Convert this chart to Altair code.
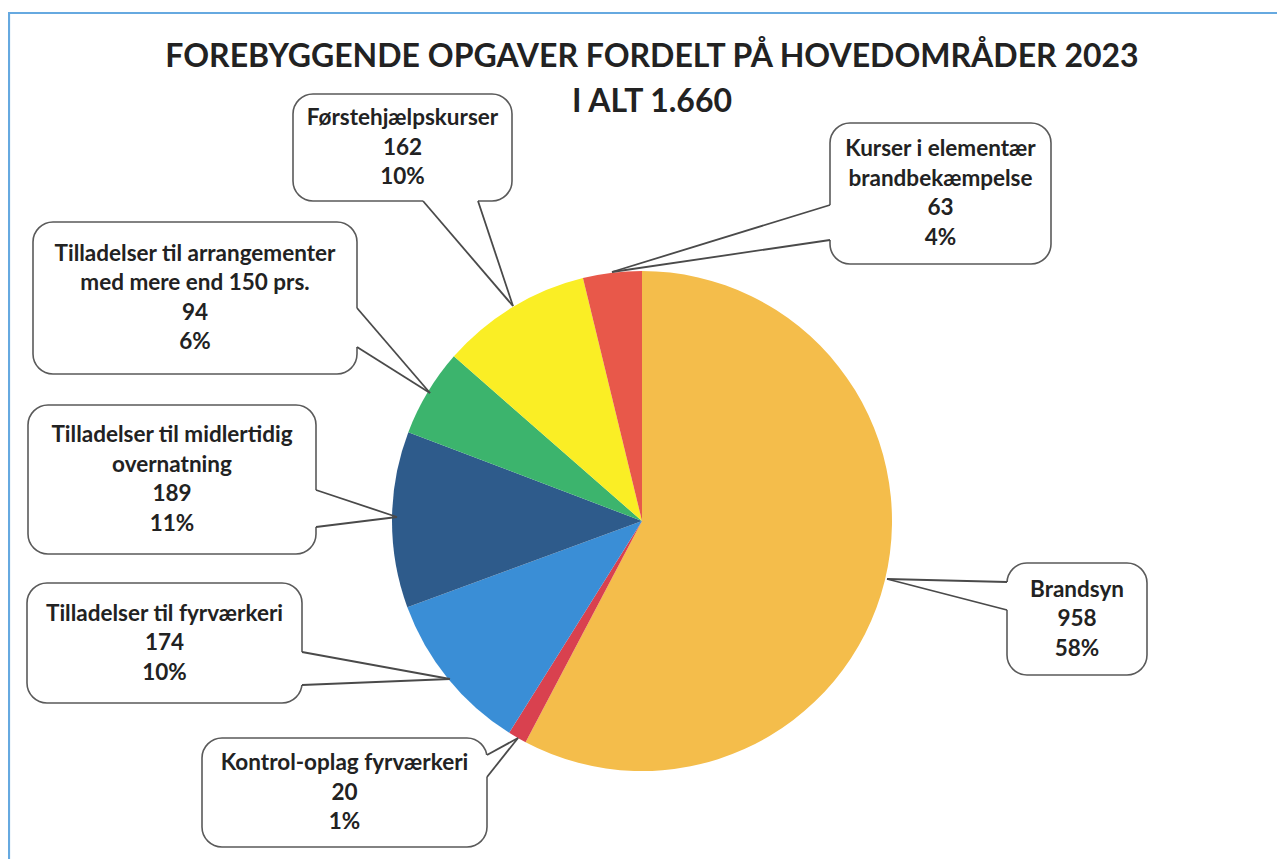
import altair as alt
import pandas as pd

# ---- data ----
categories = [
    "Brandsyn",
    "Kontrol-oplag fyrværkeri",
    "Tilladelser til fyrværkeri",
    "Tilladelser til midlertidig overnatning",
    "Tilladelser til arrangementer med mere end 150 prs.",
    "Førstehjælpskurser",
    "Kurser i elementær brandbekæmpelse",
]
label_lines = [
    ["Brandsyn"],
    ["Kontrol-oplag fyrværkeri"],
    ["Tilladelser til fyrværkeri"],
    ["Tilladelser til midlertidig", "overnatning"],
    ["Tilladelser til arrangementer", "med mere end 150 prs."],
    ["Førstehjælpskurser"],
    ["Kurser i elementær", "brandbekæmpelse"],
]
values = [958, 20, 174, 189, 94, 162, 63]
title_lines = ["FOREBYGGENDE OPGAVER FORDELT PÅ HOVEDOMRÅDER 2023", "I ALT 1.660"]

# ---- styles / layout (screen coordinates) ----
colors = ["#F4BD4B", "#D9414F", "#3A8ED6", "#2E5B8B", "#3CB46D", "#FAEE25", "#E8584A"]
# callout boxes: x1, x2, y1, y2
boxes = [
    (1007, 1147, 563, 675),
    (202, 487, 738, 847),
    (27, 302, 583, 703),
    (28, 316, 405, 554),
    (33, 357, 222, 374),
    (293, 512, 94, 201),
    (830, 1051, 123, 264),
]
# wedge: base point 1, base point 2, tip
wedges = [
    ((1007, 582), (1007, 610), (887, 579)),
    ((487, 755), (487, 777), (518, 738)),
    ((302, 652), (302, 685), (450, 679)),
    ((316, 490), (316, 527), (397, 517)),
    ((357, 308), (357, 347), (430, 393)),
    ((423, 201), (478, 201), (513, 306)),
    ((830, 205), (830, 240), (612, 272)),
]
W, H = 1269, 851
PIE_CX, PIE_CY, PIE_R = 642, 521, 250
LINE_H = 29.5
FONT = "Lato"

total = sum(values)
pcts = [round(v / total * 100) for v in values]

xs = alt.Scale(domain=[8, 8 + W], nice=False, zero=False)
ys = alt.Scale(domain=[8, 8 + H], nice=False, zero=False, reverse=True)

# pie
pie_df = pd.DataFrame({"cat": categories, "value": values, "order": list(range(len(values)))})
pie = alt.Chart(pie_df).mark_arc(radius=PIE_R, strokeWidth=0).encode(
    theta=alt.Theta("value:Q", stack=True),
    color=alt.Color("cat:N", scale=alt.Scale(domain=categories, range=colors), legend=None),
    order=alt.Order("order:Q"),
    x=alt.value(PIE_CX - 8),
    y=alt.value(PIE_CY - 8),
)

# frame
frame_df = pd.DataFrame({"x": [9], "x2": [1400], "y": [13], "y2": [1000]})
frame = alt.Chart(frame_df).mark_rect(fill=None, stroke="#66A9E0", strokeWidth=2.2, fillOpacity=0).encode(
    x=alt.X("x:Q", scale=xs, axis=None), x2="x2:Q",
    y=alt.Y("y:Q", scale=ys, axis=None), y2="y2:Q",
)

# boxes
box_df = pd.DataFrame({
    "x": [b[0] for b in boxes], "x2": [b[1] for b in boxes],
    "y": [b[2] for b in boxes], "y2": [b[3] for b in boxes],
})
box = alt.Chart(box_df).mark_rect(fill="white", stroke="#5a5a5a", strokeWidth=1.6, cornerRadius=20).encode(
    x=alt.X("x:Q", scale=xs, axis=None), x2="x2:Q",
    y=alt.Y("y:Q", scale=ys, axis=None), y2="y2:Q",
)

# cover the box border where the wedge attaches
cover_df = pd.DataFrame({
    "x": [w[0][0] for w in wedges], "y": [w[0][1] for w in wedges],
    "x2": [w[1][0] for w in wedges], "y2": [w[1][1] for w in wedges],
})
cover = alt.Chart(cover_df).mark_rule(color="white", strokeWidth=4).encode(
    x=alt.X("x:Q", scale=xs, axis=None), x2="x2:Q",
    y=alt.Y("y:Q", scale=ys, axis=None), y2="y2:Q",
)

# wedge edges
rows = []
for (p1, p2, t) in wedges:
    rows.append({"x": p1[0], "y": p1[1], "x2": t[0], "y2": t[1]})
    rows.append({"x": p2[0], "y": p2[1], "x2": t[0], "y2": t[1]})
wedge_df = pd.DataFrame(rows)
wedge = alt.Chart(wedge_df).mark_rule(color="#4a4a4a", strokeWidth=1.8).encode(
    x=alt.X("x:Q", scale=xs, axis=None), x2="x2:Q",
    y=alt.Y("y:Q", scale=ys, axis=None), y2="y2:Q",
)

# label text
trows = []
for i, b in enumerate(boxes):
    lines = label_lines[i] + [str(values[i]), f"{pcts[i]}%"]
    n = len(lines)
    cx = (b[0] + b[1]) / 2
    cy = (b[2] + b[3]) / 2
    for k, ln in enumerate(lines):
        trows.append({"x": cx, "y": cy + (k - (n - 1) / 2) * LINE_H, "t": ln})
text_df = pd.DataFrame(trows)
labels = alt.Chart(text_df).mark_text(
    font=FONT, fontWeight="bold", fontSize=22.5, color="#222222", align="center", baseline="middle"
).encode(
    x=alt.X("x:Q", scale=xs, axis=None),
    y=alt.Y("y:Q", scale=ys, axis=None),
    text="t:N",
)

# title
title_df = pd.DataFrame({"x": [652, 652], "y": [57, 102], "t": title_lines})
title = alt.Chart(title_df).mark_text(
    font=FONT, fontWeight="bold", fontSize=32, color="#222222", align="center", baseline="middle"
).encode(
    x=alt.X("x:Q", scale=xs, axis=None),
    y=alt.Y("y:Q", scale=ys, axis=None),
    text="t:N",
)

chart = alt.layer(frame, pie, box, cover, wedge, labels, title).properties(
    width=W, height=H, padding=0,
    autosize=alt.AutoSizeParams(type="none"),
    background="white",
).configure_view(stroke=None)

chart.save("out.html", embed_options={"renderer": "svg", "actions": False})
